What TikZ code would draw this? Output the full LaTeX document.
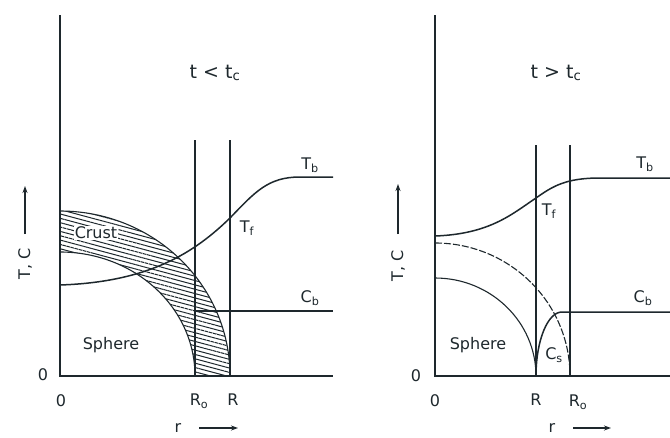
\documentclass[tikz,border=0pt]{standalone}
\usepackage{fontspec}
\setmainfont{DejaVu Sans}
\usetikzlibrary{patterns.meta,arrows.meta}
\definecolor{ink}{RGB}{30,40,45}
\begin{document}
\begin{tikzpicture}[x=1pt,y=-1pt,
  lbl/.style={font=\fontsize{16}{18}\selectfont, text=ink, inner sep=0pt},
  ttl/.style={font=\fontsize{19}{21}\selectfont, text=ink, inner sep=0pt},
  axisline/.style={draw=ink, line width=1.8pt},
  guide/.style={draw=ink, line width=1.2pt},
  curve/.style={draw=ink, line width=1.5pt},
  thincurve/.style={draw=ink, line width=1.1pt},
  arr/.style={draw=ink, line width=1.4pt, -{Stealth[length=7pt,width=5pt]}}]
\useasboundingbox[fill=white] (0,0) rectangle (670,437);

% ================= left panel =================
\coordinate (LO) at (60,376);
\coordinate (LTop) at (60,15);
\coordinate (LEnd) at (333,376);
\coordinate (LR0t) at (195,140);
\coordinate (LR0b) at (195,376);
\coordinate (LRt) at (230,140);
\coordinate (LRb) at (230,376);
\coordinate (LTs) at (60,285);
\coordinate (LTf) at (230,218);
\coordinate (LTp) at (300,177);
\coordinate (LTe) at (333,177);
\coordinate (LCs) at (195,311);
\coordinate (LCe) at (333,311);

% crust (hatched shell)
\fill[pattern={Lines[angle=-15,distance=4.2pt,line width=1pt]}, pattern color=ink]
  (60,211) arc[start angle=90,end angle=0,x radius=170pt,y radius=165pt]
  -- (195,376) arc[start angle=0,end angle=90,x radius=135pt,y radius=124pt] -- cycle;
\draw[thincurve] (60,211) arc[start angle=90,end angle=0,x radius=170pt,y radius=165pt];
\draw[thincurve] (195,376) arc[start angle=0,end angle=90,x radius=135pt,y radius=124pt];

\draw[guide] (LR0t) -- (LR0b);
\draw[guide] (LRt) -- (LRb);
\draw[axisline] (LTop) -- (LO) -- (LEnd);
\draw[curve] (LTs) .. controls (150,282) and (195,252) .. (LTf)
             .. controls (255,192) and (268,177) .. (LTp) -- (LTe);
\draw[curve] (LCs) -- (LCe);

\node[ttl] (ltitle) at (215,73) {t < t\textsubscript{c}};
\node[lbl] (lTb) at (310,165) {T\textsubscript{b}};
\node[lbl] (lTf) at (247,228) {T\textsubscript{f}};
\node[lbl] (lCb) at (310,298) {C\textsubscript{b}};
\node[lbl, fill=white, inner sep=0.8pt] (lcrust) at (96,233) {Crust};
\node[lbl] (lsphere) at (111,345) {Sphere};
\node[lbl] (lzy) at (43,375) {0};
\node[lbl] (lzx) at (61,401) {0};
\node[lbl] (lR0) at (199,401) {R\textsubscript{o}};
\node[lbl] (lR) at (233,400) {R};
\node[lbl] (lr) at (178,428) {r};
\coordinate (lrs) at (199,428);
\coordinate (lre) at (238,428);
\draw[arr] (lrs) -- (lre);
\node[lbl, rotate=90] (lyl) at (25,264) {T, C};
\coordinate (lys) at (25,234);
\coordinate (lye) at (25,186);
\draw[arr] (lys) -- (lye);

% ================= right panel =================
\coordinate (RO) at (435,376);
\coordinate (RTop) at (435,15);
\coordinate (REnd) at (670,376);
\coordinate (RRt) at (536,145);
\coordinate (RRb) at (536,376);
\coordinate (RR0t) at (570,145);
\coordinate (RR0b) at (570,376);
\coordinate (RTs) at (435,236);
\coordinate (RTf) at (536,198);
\coordinate (RTp) at (600,178);
\coordinate (RTe) at (670,178);
\coordinate (RCp) at (562,312);
\coordinate (RCe) at (670,312);

\draw[guide] (RRt) -- (RRb);
\draw[guide] (RR0t) -- (RR0b);
\draw[thincurve, dash pattern=on 7pt off 2pt] (435,243) arc[start angle=90,end angle=0,x radius=135pt,y radius=133pt];
\draw[thincurve] (435,278) arc[start angle=90,end angle=0,x radius=101pt,y radius=98pt];
\draw[axisline] (RTop) -- (RO) -- (REnd);
\draw[curve] (RTs) .. controls (490,234) and (512,214) .. (RTf)
             .. controls (553,186) and (566,178) .. (RTp) -- (RTe);
\draw[curve] (RRb) arc[start angle=180,end angle=90,x radius=26pt,y radius=64pt] -- (RCe);

\node[ttl] (rtitle) at (556,73) {t > t\textsubscript{c}};
\node[lbl] (rTb) at (645,164) {T\textsubscript{b}};
\node[lbl] (rTf) at (549,211) {T\textsubscript{f}};
\node[lbl] (rCb) at (643,298) {C\textsubscript{b}};
\node[lbl] (rCs) at (554,355) {C\textsubscript{s}};
\node[lbl] (rsphere) at (478,345) {Sphere};
\node[lbl] (rzy) at (416,376) {0};
\node[lbl] (rzx) at (435,401) {0};
\node[lbl] (rR) at (536,400) {R};
\node[lbl] (rR0) at (578,402) {R\textsubscript{o}};
\node[lbl] (rr) at (552,428) {r};
\coordinate (rrs) at (573,428);
\coordinate (rre) at (611,428);
\draw[arr] (rrs) -- (rre);
\node[lbl, rotate=90] (ryl) at (398,266) {T, C};
\coordinate (rys) at (398,234);
\coordinate (rye) at (398,184);
\draw[arr] (rys) -- (rye);
\end{tikzpicture}
\end{document}
